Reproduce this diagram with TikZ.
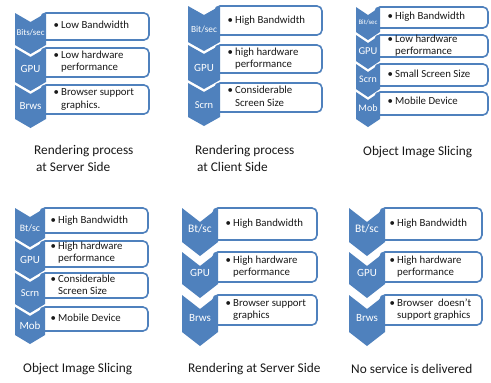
\documentclass[tikz,border=0pt]{standalone}
\usepackage{fontspec}
\setmainfont{Carlito}
\definecolor{sblue}{RGB}{79,129,189}
\tikzset{
 boxst/.style={draw=sblue, line width=1.6pt, fill=white, rounded corners=5pt},
 chevfill/.style={fill=sblue},
 lab/.style={text=white, inner sep=0pt},
 txt/.style={anchor=west, inner sep=0pt, text=black!90, font=\fontsize{10.8}{12.5}\selectfont},
 txts/.style={anchor=west, inner sep=0pt, text=black!90, font=\fontsize{10.8}{12}\selectfont},
 captxt/.style={anchor=west, inner sep=0pt, align=left, text=black!90, font=\fontsize{13.3}{17}\selectfont}
}
\newcommand{\bul}[1]{\begin{tabular}{@{}l@{}l@{}}\makebox[7.5pt][l]{\textbullet} & #1\end{tabular}}
% x1, R, top, bottom
\newcommand{\rowbox}[4]{\draw[boxst] ({#1-5},#3) rectangle (#2,#4);}
% x0, x1, top, sides end, depth
\newcommand{\chevshape}[5]{\fill[chevfill] (#1,#3) -- ({(#1+#2)/2},{#3+#5}) -- (#2,#3) -- (#2,#4) -- ({(#1+#2)/2},{#4+#5}) -- (#1,#4) -- cycle;}
\begin{document}
\begin{tikzpicture}[x=1pt,y=-1pt]
\useasboundingbox[fill=white] (0,0) rectangle (491,383);
% ---------- Panel 1 ----------
\rowbox{46}{149}{13}{40}
\rowbox{46}{149}{48}{77}
\rowbox{46}{149}{85}{114}
\chevshape{15}{46}{13}{45}{9}
\chevshape{15}{46}{48}{82}{9}
\chevshape{15}{46}{85}{119}{9}
\node[lab, font=\fontsize{8.8}{10}\selectfont] (p1l1) at (30.5,33) {Bits/sec};
\node[lab, font=\fontsize{11}{12}\selectfont] (p1l2) at (30.5,69) {GPU};
\node[lab, font=\fontsize{11}{12}\selectfont] (p1l3) at (30.5,106) {Brws};
\node[txt] (p1t1) at (53.5,25.5) {\bul{Low Bandwidth}};
\node[txt] (p1t2) at (53.5,62) {\bul{Low hardware\\&performance}};
\node[txt] (p1t3) at (53.5,99.5) {\bul{Browser support\\&graphics.}};
\node[captxt] (p1c) at (34,158.5) {Rendering process\\\hspace{2pt}at Server Side};
% ---------- Panel 2 ----------
\rowbox{220}{322}{6}{35}
\rowbox{220}{322}{45}{73}
\rowbox{220}{322}{83}{112}
\chevshape{188}{220}{6}{42}{9}
\chevshape{188}{220}{45}{80}{9}
\chevshape{188}{220}{83}{117}{9}
\node[lab, font=\fontsize{9.3}{10}\selectfont] (p2l1) at (204,29) {Bit/sec};
\node[lab, font=\fontsize{11}{12}\selectfont] (p2l2) at (204,68) {GPU};
\node[lab, font=\fontsize{10.5}{12}\selectfont] (p2l3) at (204,105) {Scrn};
\node[txt] (p2t1) at (227.5,20.5) {\bul{High Bandwidth}};
\node[txt] (p2t2) at (227.5,59) {\bul{high hardware\\&performance}};
\node[txt] (p2t3) at (227.5,97.5) {\bul{Considerable\\&Screen Size}};
\node[captxt] (p2c) at (195,158.5) {Rendering process\\\hspace{2pt}at Client Side};
% ---------- Panel 3 ----------
\rowbox{380}{488}{7}{28}
\rowbox{380}{488}{35}{57}
\rowbox{380}{488}{64}{86}
\rowbox{380}{488}{92}{115}
\chevshape{356}{380}{7}{32}{8}
\chevshape{356}{380}{35}{61}{8}
\chevshape{356}{380}{64}{89}{8}
\chevshape{356}{380}{92}{119}{8}
\node[lab, font=\fontsize{6.8}{8}\selectfont] (p3l1) at (368,22) {Bit/sec};
\node[lab, font=\fontsize{10.5}{12}\selectfont] (p3l2) at (368,51) {GPU};
\node[lab, font=\fontsize{10}{12}\selectfont] (p3l3) at (368,79) {Scrn};
\node[lab, font=\fontsize{10}{12}\selectfont] (p3l4) at (368,108) {Mob};
\node[txts] (p3t1) at (387.5,17.5) {\bul{High Bandwidth}};
\node[txts] (p3t2) at (387.5,46) {\bul{Low hardware\\&performance}};
\node[txts] (p3t3) at (387.5,75) {\bul{Small Screen Size}};
\node[txts] (p3t4) at (387.5,102) {\bul{Mobile Device}};
\node[captxt] (p3c) at (363,152) {Object Image Slicing};
% ---------- Panel 4 ----------
\rowbox{45}{148}{208}{233}
\rowbox{45}{148}{241}{267}
\rowbox{45}{148}{273}{298}
\rowbox{45}{148}{307}{331}
\chevshape{15}{45}{208}{238}{9}
\chevshape{15}{45}{241}{270}{9}
\chevshape{15}{45}{273}{304}{9}
\chevshape{15}{45}{307}{335}{9}
\node[lab, font=\fontsize{9.8}{11}\selectfont] (p4l1) at (30,228) {Bt/sc};
\node[lab, font=\fontsize{11}{12}\selectfont] (p4l2) at (30,260) {GPU};
\node[lab, font=\fontsize{10.5}{12}\selectfont] (p4l3) at (30,293) {Scrn};
\node[lab, font=\fontsize{11}{12}\selectfont] (p4l4) at (30,326) {Mob};
\node[txt] (p4t1) at (50.5,220.5) {\bul{High Bandwidth}};
\node[txt] (p4t2) at (50.5,253) {\bul{High hardware\\&performance}};
\node[txt] (p4t3) at (50.5,286) {\bul{Considerable\\&Screen Size}};
\node[txt] (p4t4) at (50.5,319) {\bul{Mobile Device}};
\node[captxt] (p4c) at (23,369) {Object Image Slicing};
% ---------- Panel 5 ----------
\rowbox{218}{317}{208}{240}
\rowbox{218}{317}{252}{282}
\rowbox{218}{317}{295}{325}
\chevshape{182}{218}{208}{242}{14}
\chevshape{182}{218}{252}{284}{14}
\chevshape{182}{218}{295}{332}{14}
\node[lab, font=\fontsize{11.5}{12}\selectfont] (p5l1) at (200,229) {Bt/sc};
\node[lab, font=\fontsize{11}{12}\selectfont] (p5l2) at (200,273) {GPU};
\node[lab, font=\fontsize{11}{12}\selectfont] (p5l3) at (200,318) {Brws};
\node[txt] (p5t1) at (225.5,224) {\bul{High Bandwidth}};
\node[txt] (p5t2) at (225.5,267) {\bul{High hardware\\&performance}};
\node[txt] (p5t3) at (225.5,310) {\bul{Browser support\\&graphics}};
\node[captxt] (p5c) at (188,369) {Rendering at Server Side};
% ---------- Panel 6 ----------
\rowbox{385}{482}{208}{240}
\rowbox{385}{482}{252}{282}
\rowbox{385}{482}{295}{325}
\chevshape{349}{385}{208}{242}{14}
\chevshape{349}{385}{252}{284}{14}
\chevshape{349}{385}{295}{332}{14}
\node[lab, font=\fontsize{11.5}{12}\selectfont] (p6l1) at (367,229) {Bt/sc};
\node[lab, font=\fontsize{11}{12}\selectfont] (p6l2) at (367,273) {GPU};
\node[lab, font=\fontsize{11}{12}\selectfont] (p6l3) at (367,318) {Brws};
\node[txt] (p6t1) at (389.5,224) {\bul{High Bandwidth}};
\node[txt] (p6t2) at (389.5,267) {\bul{High hardware\\&performance}};
\node[txt] (p6t3) at (389.5,310) {\bul{Browser\ \ doesn’t\\&support graphics}};
\node[captxt] (p6c) at (351,369) {No service is delivered};
\end{tikzpicture}
\end{document}
